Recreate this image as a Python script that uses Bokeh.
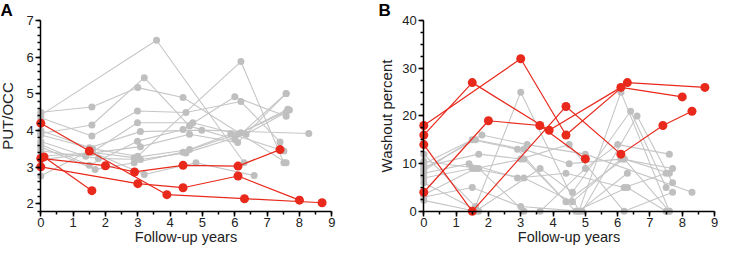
from bokeh.plotting import figure
from bokeh.models import LinearAxis, SingleIntervalTicker, Label, Range1d
from bokeh.layouts import row
from bokeh.embed import file_html
from bokeh.resources import INLINE

# ---------------- Panel A : PUT/OCC ----------------
a_gray_x = [
    [0, 1.58, 3.0, 4.4, 7.59],
    [0, 3.58, 6.29],
    [0, 1.58, 3.2, 4.6, 6.0, 7.59],
    [0, 1.58, 2.99, 4.49, 6.19, 7.4],
    [0, 1.5, 3.08, 4.98, 8.29],
    [0, 1.39, 2.99, 4.7, 6.09, 7.64],
    [0, 1.5, 2.99, 4.4, 6.0, 7.59],
    [0, 1.68, 2.89, 4.4, 6.19, 7.69],
    [0, 1.78, 3.08, 4.49, 6.35, 7.59],
    [0, 1.6, 2.89, 4.6, 5.88, 7.52],
    [0, 3.08, 4.6, 6.09, 7.59],
    [0, 1.5, 3.2, 4.8, 6.6],
    [0, 1.6, 3.0, 6.19, 7.52],
]
a_gray_y = [
    [4.5, 4.64, 5.17, 4.9, 3.12],
    [4.42, 6.46, 3.12],
    [3.92, 4.15, 5.44, 4.12, 3.76, 5.01],
    [4.35, 3.85, 4.53, 4.49, 4.79, 3.69],
    [3.88, 3.53, 3.97, 4.01, 3.92],
    [3.7, 3.3, 4.21, 4.21, 3.9, 4.58],
    [3.62, 3.05, 3.71, 4.03, 4.92, 4.39],
    [3.55, 2.94, 3.12, 3.41, 3.94, 4.56],
    [3.45, 3.24, 3.21, 3.39, 3.9, 4.5],
    [3.3, 3.4, 3.26, 3.48, 3.91, 3.44],
    [3.2, 3.56, 3.9, 3.67, 5.01],
    [2.76, 3.45, 2.8, 3.12, 2.77],
    [4.0, 3.5, 3.3, 5.88, 3.12],
]
a_red_x = [
    [0, 1.5, 3.9, 6.3, 8.7],
    [0, 2.0, 2.9, 4.4, 6.1, 7.4],
    [0.1, 1.58],
    [0, 3.0, 4.4, 6.1, 8.0],
]
a_red_y = [
    [4.2, 3.44, 2.25, 2.14, 2.03],
    [3.24, 3.04, 2.87, 3.05, 3.03, 3.48],
    [3.28, 2.36],
    [3.01, 2.55, 2.44, 2.76, 2.1],
]

# ---------------- Panel B : Washout percent ----------------
b_gray_x = [
    [0, 1.6, 3.0, 4.8, 6.1, 7.6],
    [0, 1.6, 3.1, 4.5, 6.2, 7.6],
    [0, 1.4, 2.9, 4.4, 6.2, 7.5],
    [0, 1.5, 3.1, 4.6, 6.1, 7.7],
    [0, 1.5, 3.0, 4.9, 6.6, 7.7],
    [0, 1.8, 3.2, 5.0, 8.3],
    [0, 1.6, 3.6, 4.6, 6.4, 7.5],
    [0, 1.7, 3.0, 4.5, 6.2, 7.7],
    [0, 1.7, 3.6, 5.0, 6.0, 7.6],
    [0, 1.6, 3.1, 4.7, 6.3, 7.5],
    [0, 1.5, 2.9, 4.4, 6.2, 7.6],
    [0, 1.7, 3.1, 4.8, 6.3],
]
b_gray_y = [
    [12, 1, 25, 0, 25, 0],
    [9, 15, 13, 10, 11, 8],
    [8, 10, 7, 8, 5, 8],
    [7, 9, 7, 2, 11, 9],
    [3, 5, 1, 0, 20, 6],
    [10, 16, 14, 12, 4],
    [2.3, 0, 9, 4, 21, 5],
    [9.4, 12, 11, 14, 0, 4],
    [6, 0, 0, 9, 14, 12],
    [3.5, 9, 11, 0, 5, 0],
    [8.5, 15, 13, 2, 11, 0],
    [10.5, 9, 0, 0, 8],
]
b_red_x = [
    [0, 3.0, 4.4, 6.3, 8.7],
    [0, 1.5, 3.88, 6.1, 8.0],
    [0, 1.5, 4.4, 6.1, 7.4, 8.3],
    [0, 2.0, 3.59, 5.0],
]
b_red_y = [
    [18, 32, 16, 27, 26],
    [16, 27, 17, 26, 24],
    [14, 0, 22, 12, 18, 21],
    [4, 19, 18, 11],
]

GRAY_LINE = "#c6c6c6"
GRAY_DOT = "#bfbfbf"
RED = "#e8291c"
FONT = "Liberation Sans"
H = 247


def style_axis(ax, label, standoff, label_size="15px"):
    ax.axis_label = label
    ax.axis_label_text_font = FONT
    ax.axis_label_text_font_size = label_size
    ax.axis_label_text_font_style = "normal"
    ax.axis_label_text_color = "#222222"
    ax.axis_label_standoff = standoff
    ax.major_label_text_font = FONT
    ax.major_label_text_font_size = "13px"
    ax.major_label_text_color = "#222222"
    ax.major_label_standoff = 2
    ax.axis_line_width = 1.5
    ax.axis_line_color = "black"
    ax.major_tick_in = 0
    ax.major_tick_out = 5
    ax.minor_tick_in = 0
    ax.minor_tick_out = 3
    ax.major_tick_line_width = 1.5
    ax.minor_tick_line_width = 1.5
    ax.major_tick_line_color = "black"
    ax.minor_tick_line_color = "black"


def make_panel(width, axis_px_x, px_per_x, axis_px_y, ytop_val, px_per_y,
               gx, gy, rx, ry, x_fixed, ybounds, yinterval, yminor,
               ylabel, ystandoff, letter, letter_x):
    # frame covers the whole canvas; ranges chosen so that the axes sit
    # where the reference puts them
    x0 = -axis_px_x / px_per_x
    x1 = x0 + width / px_per_x
    y1 = ytop_val + axis_px_y / px_per_y
    y0 = y1 - H / px_per_y
    p = figure(width=width, height=H, output_backend="svg",
               toolbar_location=None, x_range=Range1d(x0, x1),
               y_range=Range1d(y0, y1), x_axis_location=None,
               y_axis_location=None, min_border=0,
               outline_line_color=None)
    p.grid.visible = False
    for xs, ys in zip(gx, gy):
        p.line(xs, ys, line_color=GRAY_LINE, line_width=1.1)
    for xs, ys in zip(gx, gy):
        p.scatter(xs, ys, size=7, fill_color=GRAY_DOT, line_color=None)
    for xs, ys in zip(rx, ry):
        p.line(xs, ys, line_color=RED, line_width=1.2)
        p.scatter(xs, ys, size=9, fill_color=RED, line_color=None)

    xa = LinearAxis(fixed_location=x_fixed, bounds=(0, 9),
                    ticker=SingleIntervalTicker(interval=1, num_minor_ticks=2))
    style_axis(xa, "Follow-up years", -2, "14.5px")
    p.add_layout(xa, "below")
    ya = LinearAxis(fixed_location=0, bounds=ybounds,
                    ticker=SingleIntervalTicker(interval=yinterval,
                                                num_minor_ticks=yminor))
    style_axis(ya, ylabel, ystandoff)
    p.add_layout(ya, "left")

    p.add_layout(Label(x=letter_x, y=H, x_units="screen",
                       y_units="screen", text=letter, text_font=FONT,
                       text_font_style="bold", text_font_size="17px",
                       text_baseline="top", text_color="black"))
    return p


# panel A: y axis at x-pixel 40.3, 32.33 px per year, value 7 at pixel 20
pA = make_panel(360, 40.3, 32.33, 20.0, 7.0, 36.67,
                a_gray_x, a_gray_y, a_red_x, a_red_y,
                1.8, (1.8, 7), 1, 5, "PUT/OCC", 7, "A", 0)
# panel B: y axis at x-pixel 63.3, value 40 at pixel 20.15, 4.767 px per %
pB = make_panel(358, 63.3, 32.31, 20.15, 40.0, 4.767,
                b_gray_x, b_gray_y, b_red_x, b_red_y,
                0, (0, 40), 10, 4, "Washout percent", 4, "B", 18)

layout = row(pA, pB)
open("out.html", "w").write(file_html(layout, INLINE))
